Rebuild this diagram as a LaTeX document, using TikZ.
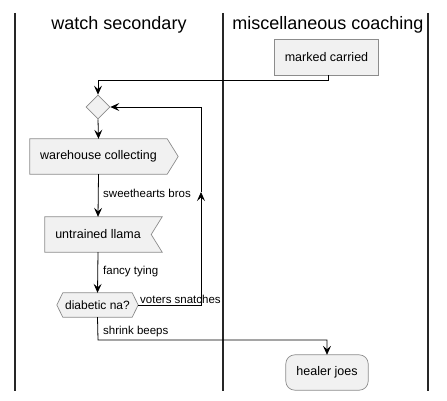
\documentclass[tikz,border=0pt]{standalone}
\usepackage{fontspec}
\setmainfont{Liberation Sans}
\usetikzlibrary{arrows.meta,shapes.geometric,backgrounds,calc}
\definecolor{boxfill}{HTML}{F1F1F1}
\definecolor{boxline}{HTML}{8C8C8C}
\tikzset{
  lane/.style={line width=1.5pt,draw=black!85},
  title/.style={font=\fontsize{18}{20}\selectfont,anchor=base,inner sep=0pt},
  txt/.style={font=\fontsize{12.5}{14}\selectfont,inner sep=0pt,draw=none},
  shapebox/.style={fill=boxfill,draw=boxline,line width=0.7pt},
  lbl/.style={font=\fontsize{11.5}{13}\selectfont,anchor=base west,inner sep=0pt},
  flow/.style={draw=black,line width=0.8pt,-{Stealth[length=9pt,width=8pt,inset=3.5pt]}},
  plain/.style={draw=black,line width=0.8pt},
}
\begin{document}
\begin{tikzpicture}[x=1pt,y=-1pt]
\useasboundingbox (0,0) rectangle (447,401);

% lane titles
\node[title] (t1) at (119,30) {watch secondary};
\node[title] (t2) at (328,30) {miscellaneous coaching};

% activities (text and anchors; outlines go on the background layer)
\node[txt,minimum width=103pt,minimum height=35pt] (mc) at (326.5,57.5) {marked carried};
\node[diamond,shapebox,minimum width=24pt,minimum height=24pt,inner sep=0pt] (d1) at (98,107) {};
\node[txt,minimum width=137pt,minimum height=35pt] (wc) at (98.5,156.5) {warehouse collecting};
\node[txt,minimum width=106pt,minimum height=35pt] (ul) at (98,234.5) {untrained llama};
\node[txt,minimum width=69pt,minimum height=24pt,font=\fontsize{12}{14}\selectfont] (dn) at (97.5,305) {diabetic na?};
\node[txt,minimum width=82pt,minimum height=35pt] (hj) at (327,372.5) {healer joes};

\begin{scope}[on background layer]
  % swimlane separators
  \draw[lane] (15,13) -- (15,391);
  \draw[lane] (223,13) -- (223,391);
  \draw[lane] (428,13) -- (428,391);
  % activity outlines
  \path[shapebox] (mc.north west) rectangle (mc.south east);
  \path[shapebox] (wc.north west) -- (wc.north east) -- ($(wc.east)+(11,0)$)
      -- (wc.south east) -- (wc.south west) -- cycle;
  \path[shapebox] (ul.north west) -- ($(ul.north east)+(11,0)$) -- (ul.east)
      -- ($(ul.south east)+(11,0)$) -- (ul.south west) -- cycle;
  \path[shapebox] (dn.north west) -- (dn.north east) -- ($(dn.east)+(6,0)$)
      -- (dn.south east) -- (dn.south west) -- ($(dn.west)+(-6,0)$) -- cycle;
  \path[shapebox,rounded corners=9pt] (hj.north west) rectangle (hj.south east);
\end{scope}

% loop-back route
\coordinate (lb) at (201,305);
\coordinate (lm) at (201,192);
\coordinate (lt) at (201,107);
\coordinate (jn) at (98,340);
\coordinate (mt) at (328,80);

% connectors
\draw[flow] (mc.south -| mt) -- (mt) -| (d1.north);
\draw[flow] (d1.south) -- (wc.north);
\draw[flow] (wc.south) -- (ul.north);
\draw[flow] (ul.south) -- (dn.north);
\draw[flow] ($(dn.east)+(6,0)$) -- (lb) -- (lm);
\draw[flow] (lm) -- (lt) -- (d1.east);
\draw[flow] (dn.south) -- (jn) -| (hj.north);

% connector labels
\node[lbl] (l1) at (103,197) {sweethearts bros};
\node[lbl] (l2) at (103,274) {fancy tying};
\node[lbl] (l3) at (140,303) {voters snatches};
\node[lbl] (l4) at (103,334) {shrink beeps};
\end{tikzpicture}
\end{document}
